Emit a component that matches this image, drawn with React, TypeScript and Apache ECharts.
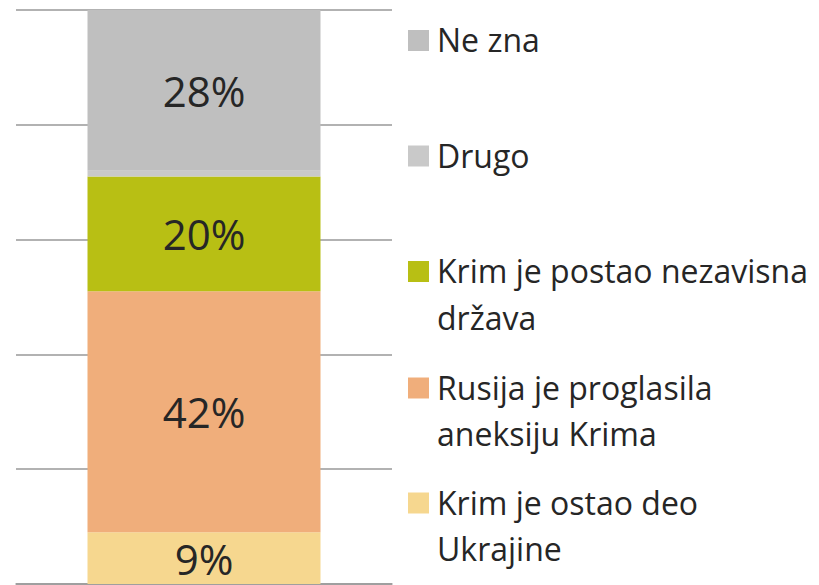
import React, { useEffect, useRef } from "react";
import * as echarts from "echarts";

const categories = ["Krim"];
const seriesNames = [
  "Krim je ostao deo\nUkrajine",
  "Rusija je proglasila\naneksiju Krima",
  "Krim je postao nezavisna\ndržava",
  "Drugo",
  "Ne zna",
];
const seriesValues = [9, 42, 20, 1, 28];
const seriesColors = ["#f6d78f", "#f0ae7b", "#b8bf14", "#c9c9c9", "#bfbfbf"];
const showLabel = [true, true, true, false, true];
const yTicks = [0, 20, 40, 60, 80, 100];

// legend first-line centre y positions (layout only)
const legendCenters = [503, 388, 271.5, 156, 40.5];

export default function App() {
  const ref = useRef<HTMLDivElement>(null);
  useEffect(() => {
    if (!ref.current) return;
    const chart = echarts.init(ref.current, undefined, { renderer: "svg" });
    const font = "'Open Sans', 'Noto Sans', sans-serif";
    const lineH = 46.5;
    const fs = 32;
    const graphics: any[] = [];
    seriesNames.forEach((name, i) => {
      const cy = legendCenters[i];
      graphics.push({
        type: "rect",
        left: 408,
        top: cy - 10.5,
        shape: { width: 21, height: 21 },
        style: { fill: seriesColors[i] },
      });
      graphics.push({
        type: "text",
        x: 437,
        y: cy - lineH / 2 - 1,
        style: {
          text: name,
          fill: "#262626",
          font: `${fs}px ${font}`,
          fontFamily: font,
          fontSize: fs,
          lineHeight: lineH,
          verticalAlign: "top",
          align: "left",
        },
      });
    });
    chart.setOption({
      animation: false,
      grid: { left: 16, width: 376, top: 10, bottom: 1, containLabel: false },
      xAxis: {
        type: "category",
        data: categories,
        axisLine: { show: true, lineStyle: { color: "#999999", width: 1.5 } },
        axisTick: { show: false },
        axisLabel: { show: false },
      },
      yAxis: {
        type: "value",
        min: yTicks[0],
        max: yTicks[yTicks.length - 1],
        interval: yTicks[1] - yTicks[0],
        axisLine: { show: false },
        axisTick: { show: false },
        axisLabel: { show: false },
        splitLine: { show: true, lineStyle: { color: "#999999", width: 1.5 } },
      },
      series: seriesNames.map((name, i) => ({
        name,
        type: "bar",
        stack: "total",
        barWidth: 233,
        data: [seriesValues[i]],
        itemStyle: { color: seriesColors[i] },
        label: {
          show: showLabel[i],
          position: "inside",
          formatter: "{c}%",
          color: "#262626",
          fontSize: 42,
          lineHeight: 42,
          fontFamily: font,
        },
      })),
      graphic: graphics,
    });
    return () => chart.dispose();
  }, []);
  return (
    <div
      ref={ref}
      style={{ position: "fixed", left: 0, top: 0, width: 819, height: 585, background: "#fff" }}
    />
  );
}
